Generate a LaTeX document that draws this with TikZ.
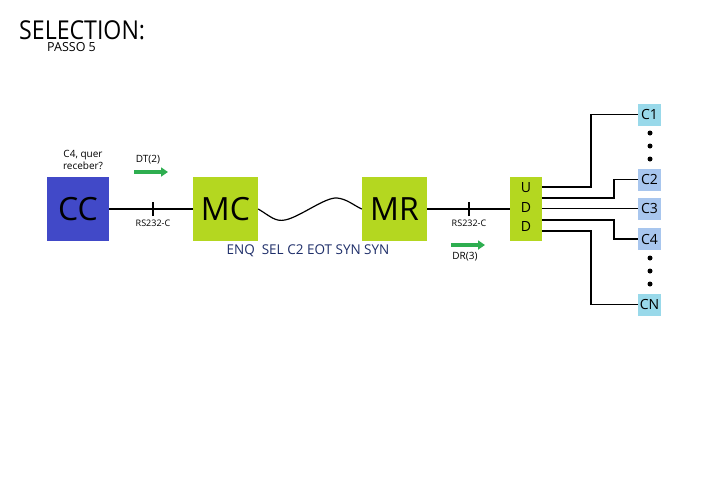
\documentclass[tikz,border=0pt]{standalone}
\usepackage{fontspec}
\setmainfont{Open Sans}
\usetikzlibrary{arrows.meta}
\definecolor{ccblue}{HTML}{4149C8}
\definecolor{lime}{HTML}{B4D720}
\definecolor{cya}{HTML}{99D9EA}
\definecolor{lav}{HTML}{A8C6EE}
\definecolor{grn}{HTML}{2EAE50}
\definecolor{navy}{HTML}{1F2F6A}
\tikzset{
  bigbox/.style={minimum width=65pt,minimum height=64pt,inner sep=0pt,font=\fontsize{32}{32}\selectfont},
  cbox/.style={minimum width=23pt,minimum height=22pt,inner sep=0pt,font=\fontsize{14}{14}\selectfont},
  wire/.style={line width=1.2pt,black},
  small/.style={font=\fontsize{9}{10}\selectfont,inner sep=0pt},
  dot/.style={circle,fill=black,inner sep=0pt,minimum size=5pt},
  garrow/.style={line width=4pt,grn,-{Triangle[length=7pt,width=9pt]}}
}
\begin{document}
\begin{tikzpicture}[x=1pt,y=-1pt]
\fill[white] (0,0) rectangle (720,480);
\useasboundingbox (0,0) rectangle (720,480);
\node[anchor=base west,inner sep=0pt,font=\fontsize{26}{26}\selectfont] (title) at (19,39.5) {\scalebox{0.89}[1]{SELECTION:}};
\node[anchor=base west,inner sep=0pt,font=\fontsize{12.5}{12.5}\selectfont] (passo) at (47,51) {PASSO 5};
% boxes
\node[bigbox,fill=ccblue,minimum width=62pt] (cc) at (78,209) {CC};
\node[bigbox,fill=lime] (mc) at (225.5,209) {MC};
\node[bigbox,fill=lime] (mr) at (394.5,209) {MR};
\node[fill=lime,minimum width=32pt,minimum height=64pt,inner sep=0pt] (udd) at (526,209) {};
\node[font=\fontsize{14}{14}\selectfont,inner sep=0pt] (u1) at (526,188) {U};
\node[font=\fontsize{14}{14}\selectfont,inner sep=0pt] (u2) at (526,207) {D};
\node[font=\fontsize{14}{14}\selectfont,inner sep=0pt] (u3) at (526,226) {D};
% C boxes
\node[cbox,fill=cya] (c1) at (649.5,114.5) {C1};
\node[cbox,fill=lav] (c2) at (649.5,179.5) {C2};
\node[cbox,fill=lav] (c3) at (649.5,208.5) {C3};
\node[cbox,fill=lav] (c4) at (649.5,239) {C4};
\node[cbox,fill=cya] (cn) at (649.5,304.5) {CN};
% dots
\node[dot] (d1) at (650,133) {};
\node[dot] (d2) at (650,146) {};
\node[dot] (d3) at (650,159) {};
\node[dot] (d4) at (650,258) {};
\node[dot] (d5) at (650,271) {};
\node[dot] (d6) at (650,284) {};
% lines
\draw[wire] (cc.east) -- (mc.west);
\draw[wire] (mr.east) -- (udd.west);
\coordinate (t1) at (153,209);
\coordinate (t2) at (469,209);
\draw[wire] ([yshift=-7pt]t1) -- ([yshift=7pt]t1);
\draw[wire] ([yshift=-7pt]t2) -- ([yshift=7pt]t2);
\node[small] (rs1) at (153,223) {RS232-C};
\node[small] (rs2) at (469,223) {RS232-C};
\draw[wire] (mc.east) .. controls (270,216) and (275,222) .. (285,220)
  .. controls (300,217) and (325,197) .. (337,198)
  .. controls (347,199) and (353,205) .. (mr.west);
\node[font=\fontsize{13.5}{13.5}\selectfont,text=navy,inner sep=0pt] (enq) at (308,251) {ENQ\ \ SEL C2 EOT SYN SYN};
% labels above CC
\node[font=\fontsize{10}{12}\selectfont,align=center,inner sep=0pt] (q) at (83,160) {C4, quer\\receber?};
\node[small,font=\fontsize{10}{10}\selectfont] (dt) at (148,160) {DT(2)};
\coordinate (ga1) at (134,172);
\coordinate (ga2) at (168,172);
\draw[garrow] (ga1) -- (ga2);
\coordinate (gb1) at (451,245);
\coordinate (gb2) at (485,245);
\draw[garrow] (gb1) -- (gb2);
\node[small,font=\fontsize{10}{10}\selectfont] (dr) at (465,257) {DR(3)};
% UDD branches
\draw[wire] (542,187) -| (591,114.5) -- (c1.west);
\draw[wire] (542,198) -| (614,179.5) -- (c2.west);
\draw[wire] (542,208.5) -- (c3.west);
\draw[wire] (542,220) -| (614,239) -- (c4.west);
\draw[wire] (542,231) -| (591,304.5) -- (cn.west);
\end{tikzpicture}
\end{document}
